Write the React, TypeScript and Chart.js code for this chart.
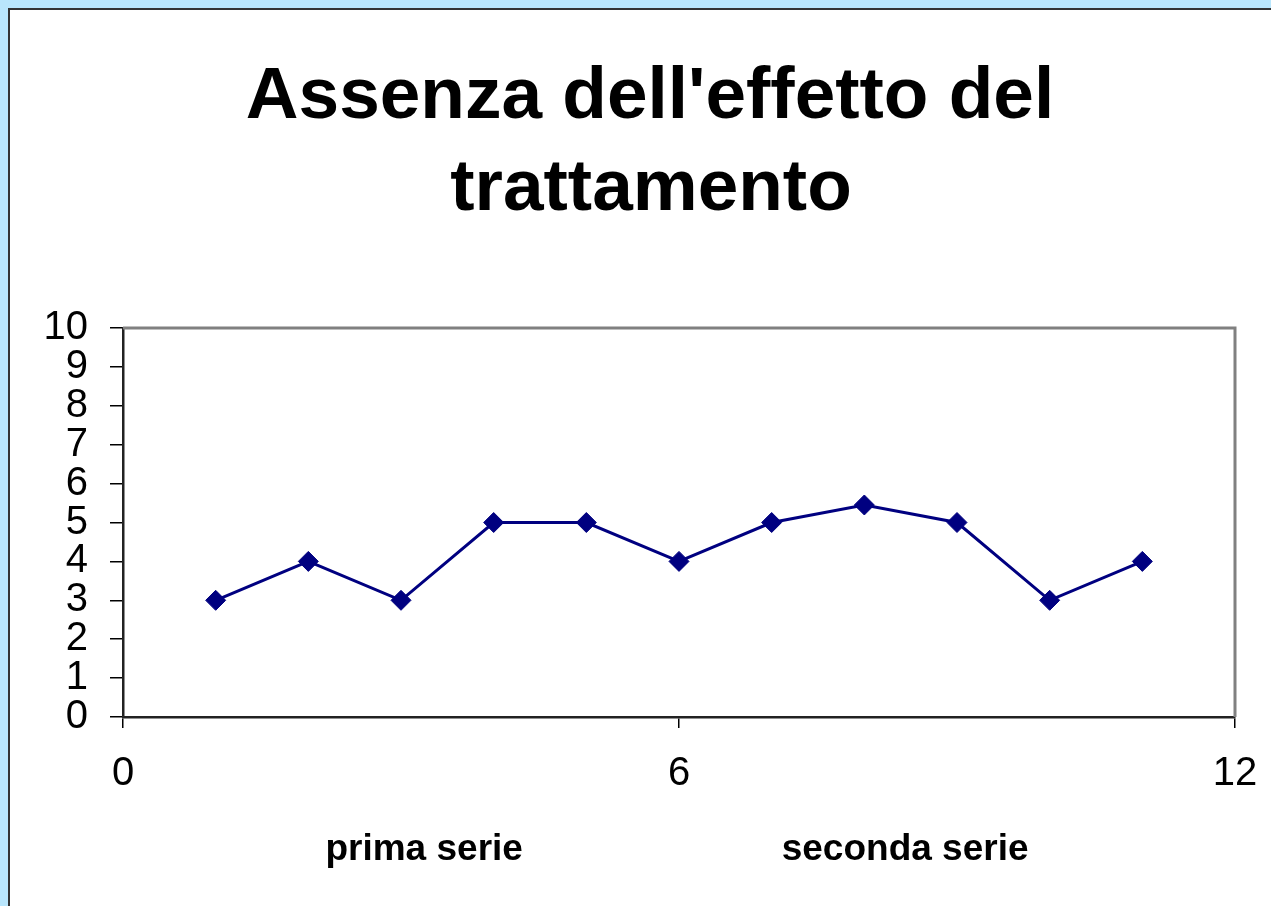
import React, { useEffect, useRef } from "react";
import { Chart, registerables } from "chart.js";

Chart.register(...registerables);

const titleLines = ["Assenza dell'effetto del", "trattamento"];
const xValues = [1, 2, 3, 4, 5, 6, 7, 8, 9, 10, 11];
const yValues = [3, 4, 3, 5, 5, 4, 5, 5.45, 5, 3, 4];
const xTickValues = [0, 6, 12];
const groupLabels = ["prima serie", "seconda serie"];
const groupCenters = [3.25, 8.44];

const FONT = "'Liberation Sans', Arial, sans-serif";

export default function App() {
  const ref = useRef<HTMLCanvasElement | null>(null);

  useEffect(() => {
    const canvas = ref.current;
    if (!canvas) return;

    const framePlugin = {
      id: "frame",
      beforeDatasetsDraw(chart: any) {
        const { ctx, chartArea } = chart;
        ctx.save();
        ctx.strokeStyle = "#808080";
        ctx.lineWidth = 3;
        ctx.beginPath();
        ctx.moveTo(chartArea.left, chartArea.top);
        ctx.lineTo(chartArea.right, chartArea.top);
        ctx.lineTo(chartArea.right, chartArea.bottom);
        ctx.stroke();
        ctx.restore();
      },
      afterDraw(chart: any) {
        const { ctx } = chart;
        ctx.save();
        ctx.fillStyle = "#000";
        ctx.textAlign = "center";
        ctx.textBaseline = "alphabetic";
        ctx.font = `bold 73px ${FONT}`;
        ctx.fillText(titleLines[0], 650, 118);
        ctx.fillText(titleLines[1], 651, 210);
        ctx.font = `bold 37px ${FONT}`;
        const xs = chart.scales.x;
        groupLabels.forEach((t, i) => {
          ctx.fillText(t, xs.getPixelForValue(groupCenters[i]), 860);
        });
        ctx.restore();
      },
    };

    const chart = new Chart(canvas, {
      type: "line",
      data: {
        datasets: [
          {
            data: xValues.map((x, i) => ({ x, y: yValues[i] })),
            borderColor: "#000080",
            backgroundColor: "#000080",
            borderWidth: 3,
            pointStyle: "rectRot",
            pointRadius: 10,
            pointBorderWidth: 1,
            pointBorderColor: "#000080",
            pointBackgroundColor: "#000080",
            tension: 0,
          },
        ],
      },
      options: {
        animation: false,
        responsive: false,
        events: [],
        layout: {
          autoPadding: false,
          padding: { top: 328, left: 0, right: 36, bottom: 0 },
        } as any,
        plugins: {
          legend: { display: false },
          title: { display: false },
          tooltip: { enabled: false },
        },
        scales: {
          x: {
            type: "linear",
            min: 0,
            max: 12,
            afterBuildTicks(scale: any) {
              scale.ticks = xTickValues.map((v) => ({ value: v }));
            },
            afterFit(scale: any) {
              scale.height = 189;
              scale.paddingLeft = 0;
              scale.paddingRight = 0;
            },
            ticks: {
              font: { family: FONT, size: 40 },
              color: "#000",
              padding: 22,
              maxRotation: 0,
              autoSkip: false,
            },
            grid: {
              drawOnChartArea: false,
              drawTicks: true,
              tickLength: 11,
              color: "#000",
              lineWidth: 1.5,
            },
            border: { display: true, color: "#222", width: 2.5 },
          },
          y: {
            min: 0,
            max: 10,
            afterFit(scale: any) {
              scale.width = 123;
              scale.paddingTop = 0;
              scale.paddingBottom = 0;
            },
            ticks: {
              stepSize: 1,
              autoSkip: false,
              font: { family: FONT, size: 40 },
              color: "#000",
              padding: 22,
            },
            grid: {
              drawOnChartArea: false,
              drawTicks: true,
              tickLength: 13,
              color: "#000",
              lineWidth: 1.5,
            },
            border: { display: true, color: "#222", width: 2.5 },
          },
        },
      },
      plugins: [framePlugin],
    });

    return () => chart.destroy();
  }, []);

  return (
    <div
      style={{
        position: "fixed",
        left: 0,
        top: 0,
        width: 1271,
        height: 906,
        background: "#b9e6fc",
        overflow: "hidden",
      }}
    >
      <div
        style={{
          position: "absolute",
          left: 8,
          top: 8,
          width: 1400,
          height: 1000,
          background: "#fff",
          border: "2px solid #333",
        }}
      />
      <canvas
        ref={ref}
        width={1271}
        height={906}
        style={{ position: "absolute", left: 0, top: 0, width: 1271, height: 906 }}
      />
    </div>
  );
}
